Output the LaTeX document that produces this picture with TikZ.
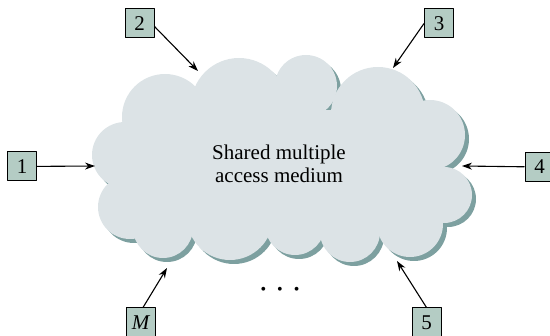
\documentclass[tikz,border=0pt]{standalone}
\usepackage{fontspec}
\setmainfont{Liberation Serif}
\usetikzlibrary{arrows.meta}
\definecolor{cloudfill}{RGB}{220,227,230}
\definecolor{cloudshade}{RGB}{125,160,160}
\definecolor{boxfill}{RGB}{180,204,196}
\tikzset{stationbox/.style={draw, line width=1pt, fill=boxfill, minimum width=29pt, minimum height=29pt, inner sep=0pt}}
\newcommand{\cloudcircles}{165/117/43, 125/155/33, 130/207/32, 163/228/30, 230/217/43, 295/225/30, 350/232/30, 410/224/33, 444/195/28, 430/135/35, 378/114/47, 306/86/31, 239/106/48, 290/130/40}
\begin{document}
\begin{tikzpicture}[x=1pt, y=-1pt, font=\fontsize{21}{23}\selectfont, line join=round, >={Stealth[length=10pt, width=7pt]}]
				\useasboundingbox (0,0) rectangle (550,336);
				\begin{scope}[shift={(4,4)}]
					\fill[cloudshade] (130,110) rectangle (440,225);
					\foreach \cx/\cy/\rad in \cloudcircles
						\fill[cloudshade] (\cx,\cy) circle (\rad pt);
				\end{scope}
				\fill[cloudfill] (130,110) rectangle (440,225);
				\foreach \cx/\cy/\rad in \cloudcircles
					\fill[cloudfill] (\cx,\cy) circle (\rad pt);
				
				\node[align=center] (medium) at (279,164) {Shared multiple\\access medium};
				\node (dots) at (280,291) {\fontsize{16}{16}\selectfont\textbullet\hspace{11pt}\textbullet\hspace{11pt}\textbullet};
				
				\node[stationbox] (s1) at (22,166.5) {1};
				\node[stationbox] (s2) at (139.5,23.5) {2};
				\node[stationbox] (s3) at (439,23.5) {3};
				\node[stationbox] (s4) at (539.5,167) {4};
				\node[stationbox] (sM) at (141,322.5) {\textit{M}};
				\node[stationbox] (s5) at (426.5,322.5) {5};
				
				\coordinate (t1) at (95,166);
				\coordinate (t2) at (198,71);
				\coordinate (t3) at (393,68);
				\coordinate (t4) at (462,166);
				\coordinate (tM) at (167,268);
				\coordinate (t5) at (397,261);
				
				\draw[->, line width=1.1pt] (s1) -- (t1);
				\draw[->, line width=1.1pt] ([yshift=-3pt]s2.east) -- (t2);
				\draw[->, line width=1.1pt] (s3.west) -- (t3);
				\draw[->, line width=1.1pt] (s4) -- (t4);
				\draw[->, line width=1.1pt] ([xshift=2pt]sM.north) -- (tM);
				\draw[->, line width=1.1pt] (s5.north) -- (t5);
			\end{tikzpicture}
\end{document}
